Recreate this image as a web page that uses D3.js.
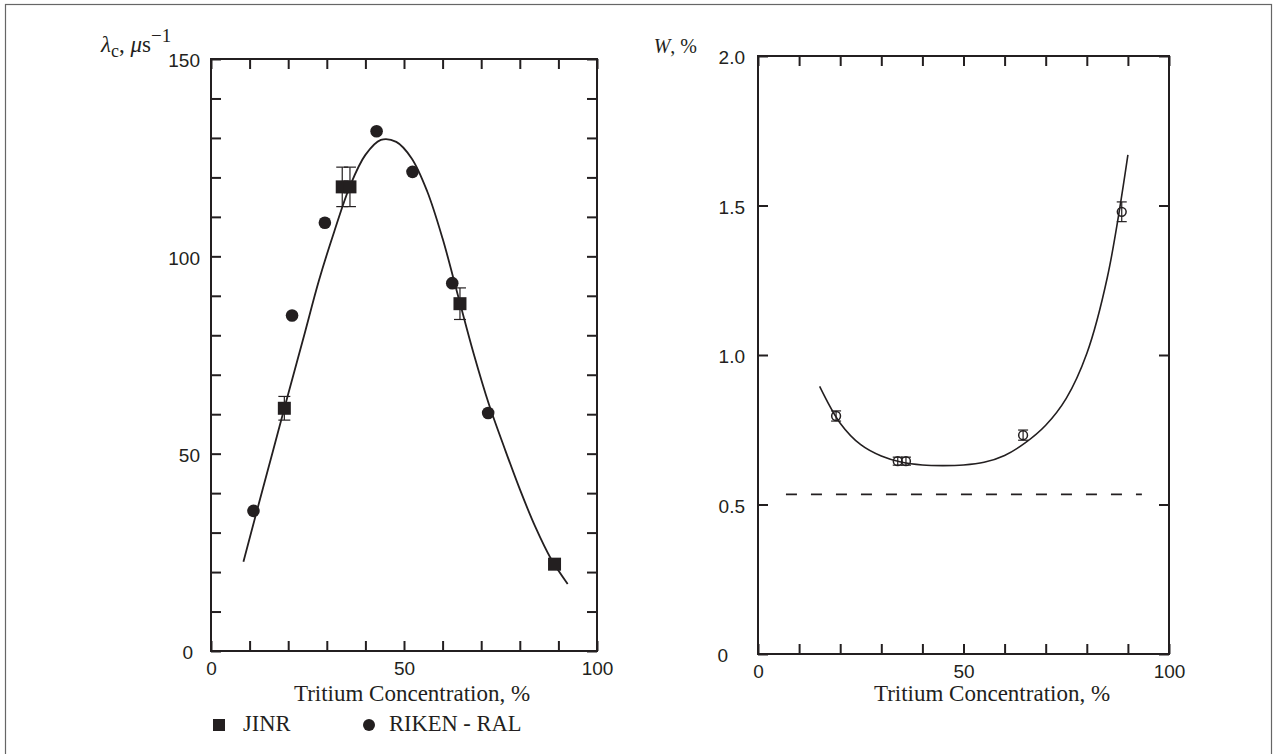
<!DOCTYPE html>
<html>
<head>
<meta charset="utf-8">
<script src="https://cdn.jsdelivr.net/npm/d3@7"></script>
<style>
  html, body { margin: 0; padding: 0; background: #fff; }
  svg { display: block; }
</style>
</head>
<body>
<svg id="chart" width="1276" height="754"></svg>
<script>
// ---------- DATA ----------
// Left panel: lambda_c (µs^-1) vs tritium concentration (%)
const jinrX   = [19, 34, 36, 64.5, 89];
const jinrY   = [61.5, 117.6, 117.6, 88, 22];
const jinrErr = [3, 5, 5, 4, 0];

const rikenX = [11, 21, 29.5, 42.9, 52.2, 62.5, 71.8];
const rikenY = [35.5, 85, 108.5, 131.7, 121.4, 93.2, 60.3];

const leftCurveX = [8.4, 12, 16, 20, 24, 28, 32, 36, 40, 44, 48, 52, 56, 60, 64, 68, 72, 76, 80, 84, 88, 92.4];
const leftCurveY = [22.6, 35.9, 50.5, 65.1, 79.5, 94, 106.5, 117.8, 125.7, 129.5, 129, 124.8, 116.5, 104.5, 90, 75.5, 62.5, 51.5, 41, 31.5, 23.5, 17];

// Right panel: W (%) vs tritium concentration (%)
const wX   = [19, 34, 36, 64.5, 88.5];
const wY   = [0.796, 0.645, 0.645, 0.732, 1.479];
const wErr = [0.017, 0.01, 0.01, 0.017, 0.033];

const rightCurveX = [15, 20, 25, 30, 35, 40, 45, 50, 55, 60, 65, 70, 75, 80, 85, 90];
const rightCurveY = [0.895, 0.772, 0.70, 0.662, 0.641, 0.632, 0.630, 0.632, 0.641, 0.664, 0.706, 0.765, 0.855, 1.005, 1.26, 1.669];

const dashedLevel = 0.534;
const dashedRange = [6.8, 93.4];

// Ticks
const xTicks = [0, 10, 20, 30, 40, 50, 60, 70, 80, 90, 100];
const xTickLabels = [0, 50, 100];
const leftYTicks = [0, 10, 20, 30, 40, 50, 60, 70, 80, 90, 100, 110, 120, 130, 140, 150];
const leftYTickLabels = [0, 50, 100, 150];
const rightYTicks = [0, 0.5, 1.0, 1.5, 2.0];
const rightYTickLabels = [0, 0.5, 1.0, 1.5, 2.0];

const xTitle = "Tritium Concentration, %";
const legendLabels = ["JINR", "RIKEN - RAL"];

// ---------- DRAWING ----------
const INK = "#231f20";
const SANS = "'Liberation Sans', Arial, Helvetica, sans-serif";
const SERIF = "'Liberation Serif', 'Times New Roman', serif";

const svg = d3.select("#chart");

// outer frame
svg.append("rect")
  .attr("x", 5.5).attr("y", 4.5).attr("width", 1266).attr("height", 760)
  .attr("fill", "none").attr("stroke", "#666").attr("stroke-width", 1.2);

const xL = d3.scaleLinear([0, 100], [211, 597]);
const yL = d3.scaleLinear([0, 150], [651, 59]);
const xR = d3.scaleLinear([0, 100], [758, 1169]);
const yR = d3.scaleLinear([0, 2], [654, 56]);

function styleAxis(g) {
  g.select(".domain").remove();
  g.selectAll(".tick line").attr("stroke", INK).attr("stroke-width", 2);
  g.selectAll(".tick text").attr("fill", INK).attr("font-family", SANS).attr("font-size", 19);
}

function panel(x, y, yTicks, yLabels, yFmt, yPad, zeroShift) {
  const [x0, x1] = x.range();
  const [y0, y1] = y.range();
  // bottom
  svg.append("g").attr("transform", `translate(0,${y0})`)
    .call(d3.axisBottom(x).tickValues(xTicks).tickSize(-10).tickPadding(11)
      .tickFormat(d => xTickLabels.includes(d) ? d : ""))
    .call(styleAxis);
  // top
  svg.append("g").attr("transform", `translate(0,${y1})`)
    .call(d3.axisTop(x).tickValues(xTicks).tickSize(-10).tickFormat(""))
    .call(styleAxis);
  // left
  svg.append("g").attr("transform", `translate(${x0},0)`)
    .call(d3.axisLeft(y).tickValues(yTicks).tickSize(-10).tickPadding(yPad)
      .tickFormat(d => yLabels.some(v => Math.abs(v - d) < 1e-9) ? yFmt(d) : ""))
    .call(styleAxis)
    .call(g => g.selectAll(".tick text").attr("dy", "0.42em")
      .filter(d => d === 0).attr("dx", -zeroShift));
  // right
  svg.append("g").attr("transform", `translate(${x1},0)`)
    .call(d3.axisRight(y).tickValues(yTicks).tickSize(-10).tickFormat(""))
    .call(styleAxis);
  // frame
  svg.append("rect")
    .attr("x", x0).attr("y", y1).attr("width", x1 - x0).attr("height", y0 - y1)
    .attr("fill", "none").attr("stroke", INK).attr("stroke-width", 2);
}

panel(xL, yL, leftYTicks, leftYTickLabels, d3.format("d"), 11, 7);
panel(xR, yR, rightYTicks, rightYTickLabels, d => d === 0 ? "0" : d3.format(".1f")(d), 13, 17);

// ---- left panel content ----
const lineL = d3.line().x(d => xL(d[0])).y(d => yL(d[1])).curve(d3.curveCatmullRom.alpha(0.5));
svg.append("path")
  .datum(leftCurveX.map((v, i) => [v, leftCurveY[i]]))
  .attr("d", lineL).attr("fill", "none").attr("stroke", INK).attr("stroke-width", 1.8);

// JINR error bars
const jinr = jinrX.map((v, i) => ({ x: v, y: jinrY[i], e: jinrErr[i] }));
const eb = svg.append("g").attr("stroke", INK).attr("stroke-width", 1.2);
jinr.filter(d => d.e > 0).forEach(d => {
  const cx = xL(d.x);
  eb.append("line").attr("x1", cx).attr("x2", cx).attr("y1", yL(d.y - d.e)).attr("y2", yL(d.y + d.e));
  eb.append("line").attr("x1", cx - 6).attr("x2", cx + 6).attr("y1", yL(d.y + d.e)).attr("y2", yL(d.y + d.e));
  eb.append("line").attr("x1", cx - 6).attr("x2", cx + 6).attr("y1", yL(d.y - d.e)).attr("y2", yL(d.y - d.e));
});
svg.append("g").selectAll("rect").data(jinr).join("rect")
  .attr("x", d => xL(d.x) - 6.5).attr("y", d => yL(d.y) - 6.5)
  .attr("width", 13).attr("height", 13).attr("fill", INK);

svg.append("g").selectAll("circle").data(rikenX.map((v, i) => ({ x: v, y: rikenY[i] }))).join("circle")
  .attr("cx", d => xL(d.x)).attr("cy", d => yL(d.y)).attr("r", 6.3).attr("fill", INK);

// ---- right panel content ----
const lineR = d3.line().x(d => xR(d[0])).y(d => yR(d[1])).curve(d3.curveCatmullRom.alpha(0.5));
svg.append("path")
  .datum(rightCurveX.map((v, i) => [v, rightCurveY[i]]))
  .attr("d", lineR).attr("fill", "none").attr("stroke", INK).attr("stroke-width", 1.6);

svg.append("line")
  .attr("x1", xR(dashedRange[0])).attr("x2", xR(dashedRange[1]))
  .attr("y1", yR(dashedLevel)).attr("y2", yR(dashedLevel))
  .attr("stroke", INK).attr("stroke-width", 1.6).attr("stroke-dasharray", "11,14");

const wPts = wX.map((v, i) => ({ x: v, y: wY[i], e: wErr[i] }));
const ebR = svg.append("g").attr("stroke", INK).attr("stroke-width", 1.2);
wPts.forEach(d => {
  const cx = xR(d.x);
  const top = Math.min(yR(d.y + d.e), yR(d.y) - 4);
  const bot = Math.max(yR(d.y - d.e), yR(d.y) + 4);
  ebR.append("line").attr("x1", cx).attr("x2", cx).attr("y1", top).attr("y2", bot);
  ebR.append("line").attr("x1", cx - 5).attr("x2", cx + 5).attr("y1", top).attr("y2", top);
  ebR.append("line").attr("x1", cx - 5).attr("x2", cx + 5).attr("y1", bot).attr("y2", bot);
});
svg.append("g").selectAll("circle").data(wPts).join("circle")
  .attr("cx", d => xR(d.x)).attr("cy", d => yR(d.y)).attr("r", 4.4)
  .attr("fill", "none").attr("stroke", INK).attr("stroke-width", 1.5);

// ---- titles ----
svg.append("text").attr("x", 412).attr("y", 701).attr("text-anchor", "middle")
  .attr("font-family", SERIF).attr("font-size", 23).attr("fill", INK).text(xTitle);
svg.append("text").attr("x", 992).attr("y", 701).attr("text-anchor", "middle")
  .attr("font-family", SERIF).attr("font-size", 23).attr("fill", INK).text(xTitle);

// left y title: λc, μs^-1
const yt = svg.append("text").attr("x", 101).attr("y", 52)
  .attr("font-family", SERIF).attr("font-size", 23).attr("fill", INK);
yt.append("tspan").attr("font-style", "italic").text("λ");
yt.append("tspan").attr("font-size", 18).attr("dy", 5).text("c");
yt.append("tspan").attr("dy", -5).text(", ");
yt.append("tspan").attr("font-style", "italic").text("μ");
yt.append("tspan").text("s");
yt.append("tspan").attr("font-size", 19).attr("dy", -10).text("−1");

// right y title: W, %
const wt = svg.append("text").attr("x", 697).attr("y", 53).attr("text-anchor", "end")
  .attr("font-family", SERIF).attr("font-size", 20).attr("fill", INK);
wt.append("tspan").attr("font-style", "italic").text("W");
wt.append("tspan").text(", %");

// ---- legend ----
const lg = svg.append("g");
lg.append("rect").attr("x", 213).attr("y", 719).attr("width", 12).attr("height", 12).attr("fill", INK);
lg.append("text").attr("x", 243).attr("y", 731)
  .attr("font-family", SERIF).attr("font-size", 22.5).attr("fill", INK).text(legendLabels[0]);
lg.append("circle").attr("cx", 369).attr("cy", 725).attr("r", 6).attr("fill", INK);
lg.append("text").attr("x", 389).attr("y", 731)
  .attr("font-family", SERIF).attr("font-size", 22.5).attr("fill", INK).text(legendLabels[1]);
</script>
</body>
</html>
